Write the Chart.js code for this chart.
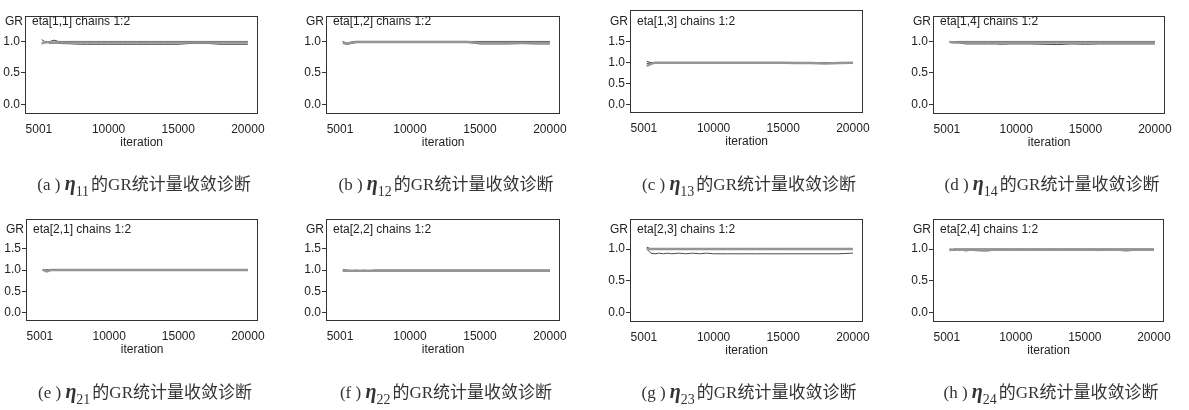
<!DOCTYPE html>
<html>
<head>
<meta charset="utf-8">
<script src="https://cdn.jsdelivr.net/npm/chart.js@4.4.0/dist/chart.umd.min.js"></script>
<style>
  body { margin: 0; background: #fff; width: 1189px; height: 410px; position: relative; overflow: hidden; }
  canvas { position: absolute; }
  .cap { position: absolute; width: 300px; text-align: center; white-space: nowrap;
         font-family: "Liberation Serif", "Noto Sans CJK SC", serif; font-size: 17px; color: #333; line-height: 20px;
         -webkit-font-smoothing: antialiased; will-change: transform; background: #fff; }
  .cap b { font-family: "Liberation Serif", serif; font-size: 20px; font-style: italic; }
  .cap sub { font-size: 14px; vertical-align: -6px; line-height: 0; margin-right: 2px; }
</style>
</head>
<body>
<script>
// iterations where the BGR statistic is reported
const iters = [5200, 5500, 5800, 6100, 6400, 6700, 7000, 7500, 8000, 8500, 9000, 9500,
  10000, 11000, 12000, 13000, 14000, 15000, 16000, 17000, 18000, 19000, 20000];

// eta[1,1]
const gr11 = [1.03, 0.98, 1.00, 1.02, 1.00, 1.00, 1.00, 1.00, 1.00, 1.00, 1.00, 1.00, 1.00, 1.00, 1.00, 1.00, 1.00, 1.00, 1.00, 1.00, 1.00, 1.00, 1.00];
const pool11 = [0.97, 0.99, 0.985, 0.985, 0.985, 0.985, 0.985, 0.985, 0.985, 0.985, 0.985, 0.985, 0.985, 0.985, 0.985, 0.985, 0.985, 0.985, 0.985, 0.985, 0.985, 0.985, 0.985];
const within11 = [0.96, 1.00, 0.97, 0.975, 0.97, 0.965, 0.965, 0.96, 0.955, 0.955, 0.955, 0.955, 0.955, 0.955, 0.955, 0.955, 0.955, 0.955, 0.97, 0.97, 0.955, 0.955, 0.955];
// eta[1,2]
const gr12 = [1.00, 0.97, 0.99, 1.00, 1.00, 1.00, 1.00, 1.00, 1.00, 1.00, 1.00, 1.00, 1.00, 1.00, 1.00, 1.00, 1.00, 1.00, 1.00, 1.00, 1.00, 1.00, 1.00];
const pool12 = [0.98, 0.96, 0.98, 0.99, 0.99, 0.99, 0.99, 0.99, 0.99, 0.99, 0.99, 0.99, 0.99, 0.99, 0.99, 0.99, 0.99, 0.98, 0.98, 0.98, 0.98, 0.98, 0.98];
const within12 = [0.99, 0.95, 0.97, 0.98, 0.99, 0.99, 0.99, 0.99, 0.99, 0.985, 0.99, 0.99, 0.99, 0.99, 0.99, 0.99, 0.99, 0.96, 0.96, 0.96, 0.965, 0.96, 0.96];
// eta[1,3]
const gr13 = [1.03, 1.00, 1.00, 1.00, 1.00, 1.00, 1.00, 1.00, 1.00, 1.00, 1.00, 1.00, 1.00, 1.00, 1.00, 1.00, 1.00, 1.00, 1.00, 1.00, 1.00, 1.00, 1.00];
const pool13 = [0.92, 0.97, 1.00, 1.00, 1.00, 1.00, 1.00, 1.00, 1.00, 1.00, 1.00, 1.00, 1.00, 1.00, 1.00, 1.00, 1.00, 1.00, 0.99, 0.99, 0.98, 0.99, 1.00];
const within13 = [0.98, 0.99, 1.00, 1.00, 1.00, 1.00, 1.00, 1.00, 1.00, 1.00, 1.00, 1.00, 1.00, 1.00, 1.00, 1.00, 1.00, 1.00, 1.00, 1.00, 1.00, 1.00, 1.00];
// eta[1,4]
const gr14 = [1.00, 0.99, 1.00, 1.00, 1.00, 1.00, 1.00, 1.00, 1.00, 1.00, 1.00, 1.00, 1.00, 1.00, 1.00, 1.00, 1.00, 1.00, 1.00, 1.00, 1.00, 1.00, 1.00];
const pool14 = [0.99, 0.985, 0.985, 0.985, 0.985, 0.985, 0.985, 0.985, 0.985, 0.985, 0.985, 0.985, 0.985, 0.985, 0.985, 0.985, 0.985, 0.985, 0.985, 0.985, 0.985, 0.985, 0.985];
const within14 = [0.99, 0.99, 0.98, 0.97, 0.96, 0.96, 0.96, 0.96, 0.96, 0.96, 0.955, 0.96, 0.96, 0.96, 0.955, 0.95, 0.96, 0.955, 0.96, 0.96, 0.96, 0.96, 0.96];
// eta[2,1]
const gr21 = [0.99, 1.01, 1.00, 1.00, 1.00, 1.00, 1.00, 1.00, 1.00, 1.00, 1.00, 1.00, 1.00, 1.00, 1.00, 1.00, 1.00, 1.00, 1.00, 1.00, 1.00, 1.00, 1.00];
const pool21 = [1.01, 0.97, 1.00, 1.00, 1.00, 1.00, 1.00, 1.00, 1.00, 1.00, 1.00, 1.00, 1.00, 1.00, 1.00, 1.00, 1.00, 1.00, 1.00, 1.00, 1.00, 1.00, 1.00];
const within21 = [1.00, 0.99, 1.00, 1.00, 1.00, 1.00, 1.00, 1.00, 1.00, 1.00, 1.00, 1.00, 1.00, 1.00, 1.00, 1.00, 1.00, 1.00, 1.00, 1.00, 1.00, 1.00, 1.00];
// eta[2,2]
const gr22 = [1.01, 1.00, 0.98, 1.00, 0.98, 1.00, 0.98, 1.00, 1.00, 1.00, 1.00, 1.00, 1.00, 1.00, 1.00, 1.00, 1.00, 1.00, 1.00, 1.00, 1.00, 1.00, 1.00];
const pool22 = [0.985, 0.985, 0.985, 0.985, 0.985, 0.985, 0.985, 0.985, 0.985, 0.985, 0.985, 0.985, 0.985, 0.985, 0.985, 0.985, 0.985, 0.985, 0.985, 0.985, 0.985, 0.985, 0.985];
const within22 = [0.97, 0.97, 0.97, 0.97, 0.97, 0.97, 0.97, 0.97, 0.97, 0.97, 0.97, 0.97, 0.97, 0.97, 0.97, 0.97, 0.97, 0.97, 0.97, 0.97, 0.97, 0.97, 0.97];
// eta[2,3]
const gr23 = [1.03, 1.00, 1.00, 1.00, 1.00, 1.00, 1.00, 1.00, 1.00, 1.00, 1.00, 1.00, 1.00, 1.00, 1.00, 1.00, 1.00, 1.00, 1.00, 1.00, 1.00, 1.00, 1.00];
const pool23 = [1.00, 1.00, 1.00, 1.00, 1.00, 1.00, 1.00, 1.00, 1.00, 1.00, 1.00, 1.00, 1.00, 1.00, 1.00, 1.00, 1.00, 1.00, 1.00, 1.00, 1.00, 1.00, 1.00];
const within23 = [1.00, 0.935, 0.925, 0.935, 0.925, 0.935, 0.925, 0.935, 0.925, 0.935, 0.925, 0.935, 0.925, 0.925, 0.925, 0.925, 0.925, 0.925, 0.925, 0.925, 0.925, 0.925, 0.935];
// eta[2,4]
const gr24 = [0.97, 1.00, 1.00, 1.00, 1.00, 1.00, 1.00, 1.00, 1.00, 1.00, 1.00, 1.00, 1.00, 1.00, 1.00, 1.00, 1.00, 1.00, 1.00, 1.00, 1.00, 1.00, 1.00];
const pool24 = [0.99, 0.99, 0.99, 0.99, 0.99, 0.99, 0.99, 0.99, 0.99, 0.99, 0.99, 0.99, 0.99, 0.99, 0.99, 0.99, 0.99, 0.99, 0.99, 0.99, 0.99, 0.99, 0.99];
const within24 = [1.00, 0.99, 0.985, 0.98, 0.97, 0.98, 0.975, 0.97, 0.97, 0.985, 0.985, 0.985, 0.985, 0.985, 0.985, 0.985, 0.985, 0.985, 0.975, 0.985, 0.97, 0.985, 0.985];

const xTicks = [5001, 10000, 15000, 20000];
const yTicksShort = [0, 0.5, 1.0];
const yTicksLong = [0, 0.5, 1.0, 1.5];

const panels = [
  { name: 'eta[1,1] chains 1:2', sub: '11', tag: 'a', box: [25, 12, 263, 114], ty: 5, y: [-0.15, 1.4], yt: yTicksShort, s: [pool11, within11, gr11] },
  { name: 'eta[1,2] chains 1:2', sub: '12', tag: 'b', box: [326, 12, 565, 114], ty: 5, y: [-0.15, 1.4], yt: yTicksShort, s: [pool12, within12, gr12] },
  { name: 'eta[1,3] chains 1:2', sub: '13', tag: 'c', box: [630, 6, 868, 113], ty: 11, y: [-0.2, 2.25], yt: yTicksLong, s: [pool13, within13, gr13] },
  { name: 'eta[1,4] chains 1:2', sub: '14', tag: 'd', box: [933, 12, 1170, 114], ty: 5, y: [-0.15, 1.4], yt: yTicksShort, s: [pool14, within14, gr14] },
  { name: 'eta[2,1] chains 1:2', sub: '21', tag: 'e', box: [26, 215, 263, 321], ty: 10, y: [-0.2, 2.2], yt: yTicksLong, s: [pool21, within21, gr21] },
  { name: 'eta[2,2] chains 1:2', sub: '22', tag: 'f', box: [326, 215, 565, 321], ty: 10, y: [-0.2, 2.2], yt: yTicksLong, s: [pool22, within22, gr22] },
  { name: 'eta[2,3] chains 1:2', sub: '23', tag: 'g', box: [630, 215, 868, 322], ty: 10, y: [-0.15, 1.47], yt: yTicksShort, s: [pool23, within23, gr23] },
  { name: 'eta[2,4] chains 1:2', sub: '24', tag: 'h', box: [933, 215, 1169, 322], ty: 10, y: [-0.15, 1.47], yt: yTicksShort, s: [pool24, within24, gr24] }
];

const FONT = '"Liberation Sans", Arial, sans-serif';
const LEFT = 30, TOP = 4, RIGHT = 10, BOTTOM = 40;

// box round the plot, "GR" and the node name inside
const framePlugin = {
  id: 'frame',
  afterDraw(chart, args, opts) {
    const a = chart.chartArea;
    const ctx = chart.ctx;
    ctx.save();
    ctx.strokeStyle = '#333';
    ctx.lineWidth = 1;
    ctx.strokeRect(Math.round(a.left) + 0.5, Math.round(a.top) + 0.5,
      Math.round(a.right - a.left) - 1, Math.round(a.bottom - a.top) - 1);
    ctx.fillStyle = '#222';
    ctx.font = '12px ' + FONT;
    ctx.textBaseline = 'middle';
    ctx.textAlign = 'right';
    ctx.fillText('GR', a.left - 2, a.top + opts.ty);
    ctx.textAlign = 'left';
    ctx.fillText(opts.name, a.left + 7, a.top + opts.ty);
    ctx.restore();
  }
};

function makePanel(p) {
  const [bl, bt, br, bb] = p.box;
  const c = document.createElement('canvas');
  const w = br - bl + LEFT + RIGHT;
  const h = bb - bt + TOP + BOTTOM;
  c.width = w; c.height = h;
  c.style.left = (bl - LEFT) + 'px';
  c.style.top = (bt - TOP) + 'px';
  c.style.width = w + 'px';
  c.style.height = h + 'px';
  document.body.appendChild(c);

  const styles = [
    { color: '#959595', width: 2.5 },
    { color: '#4a4a4a', width: 1 },
    { color: '#3a3a3a', width: 1 }
  ];

  new Chart(c, {
    type: 'line',
    data: {
      datasets: p.s.map((vals, i) => ({
        data: iters.map((x, j) => ({ x: x, y: vals[j] })),
        borderColor: styles[i].color,
        borderWidth: styles[i].width,
        pointRadius: 0,
        tension: 0,
        fill: false
      }))
    },
    options: {
      responsive: false,
      animation: false,
      devicePixelRatio: 1,
      layout: { padding: { left: 0, top: TOP, right: RIGHT, bottom: 0 } },
      plugins: {
        legend: { display: false },
        tooltip: { enabled: false },
        frame: { name: p.name, ty: p.ty }
      },
      scales: {
        x: {
          type: 'linear',
          min: 4000,
          max: 20750,
          afterBuildTicks: s => { s.ticks = xTicks.map(v => ({ value: v })); },
          afterFit: s => { s.height = BOTTOM; },
          grid: { display: false, drawTicks: false },
          border: { display: false },
          ticks: {
            color: '#222',
            font: { family: FONT, size: 12 },
            padding: 8,
            maxRotation: 0,
            autoSkip: false,
            callback: v => String(v)
          },
          title: {
            display: true,
            text: 'iteration',
            color: '#222',
            font: { family: FONT, size: 12 },
            padding: { top: 0, bottom: 4 }
          }
        },
        y: {
          type: 'linear',
          min: p.y[0],
          max: p.y[1],
          afterBuildTicks: s => { s.ticks = p.yt.map(v => ({ value: v })); },
          afterFit: s => { s.width = LEFT; },
          grid: { drawOnChartArea: false, drawTicks: true, tickLength: 4, color: '#333' },
          border: { display: false },
          ticks: {
            color: '#222',
            font: { family: FONT, size: 12 },
            padding: 1,
            callback: v => v.toFixed(1)
          }
        }
      }
    },
    plugins: [framePlugin]
  });

  const cap = document.createElement('div');
  cap.className = 'cap';
  cap.style.left = Math.round((bl + br) / 2 - 150) + 'px';
  cap.style.top = (bt < 100 ? 173 : 381) + 'px';
  cap.innerHTML = '(' + p.tag + ' ) <b>η</b><sub>' + p.sub + '</sub>的GR统计量收敛诊断';
  document.body.appendChild(cap);
}

panels.forEach(makePanel);
</script>
</body>
</html>
